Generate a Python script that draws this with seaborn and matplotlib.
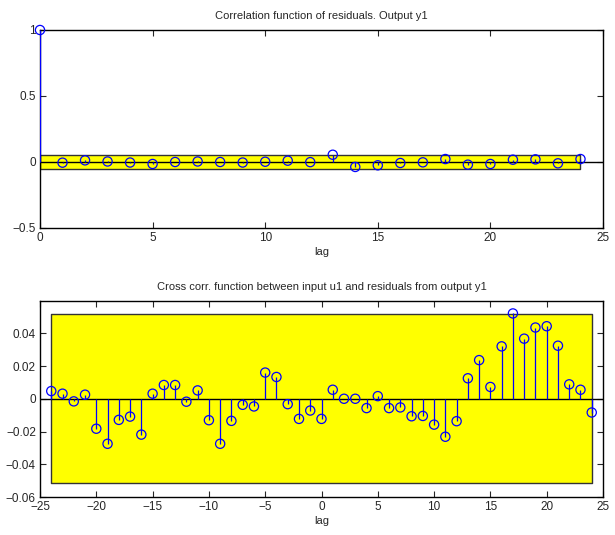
import numpy as np
import pandas as pd
import matplotlib
matplotlib.use('Agg')
import matplotlib.pyplot as plt
import seaborn as sns
from matplotlib.ticker import FuncFormatter

# autocorrelation of residuals, lags 0..24
auto_lags = list(range(0, 25))
auto_corr = [1.0, -0.005, 0.0125, 0.004, -0.004, -0.015, 0.0, 0.004, 0.0, -0.004,
             0.002, 0.010, -0.001, 0.055, -0.0375, -0.025, -0.0075, -0.0025, 0.0225,
             -0.020, -0.015, 0.0175, 0.020, -0.010, 0.0225]
auto_conf = 0.05

# cross correlation input u1 / residuals, lags -24..24
cross_lags = list(range(-24, 25))
cross_corr = [0.0047, 0.0031, -0.0016, 0.0025, -0.0183, -0.0275, -0.0129, -0.0109,
              -0.0219, 0.0031, 0.0084, 0.0084, -0.0018, 0.0051, -0.0131, -0.0275,
              -0.0135, -0.0037, -0.0047, 0.0160, 0.0133, -0.0033, -0.0123, -0.0072,
              -0.0123, 0.0055, 0.0, 0.0, -0.0057, 0.0016, -0.0057, -0.0053,
              -0.0107, -0.0105, -0.0158, -0.0232, -0.0137, 0.0125, 0.0236, 0.0072,
              0.0320, 0.0521, 0.0367, 0.0435, 0.0443, 0.0324, 0.0088, 0.0055, -0.0084]
cross_conf = 0.0515

sns.set_style('ticks')
plt.rcParams['font.family'] = ['Liberation Sans', 'DejaVu Sans']
plt.rcParams['axes.unicode_minus'] = True

fig = plt.figure(figsize=(6.15, 5.35), dpi=100)
ax1 = fig.add_axes([40/615, (535-228)/535, 563/615, 198/535])
ax2 = fig.add_axes([40/615, (535-497)/535, 563/615, 196/535])


def fmt(v, pos):
    return ('%g' % v).replace('-', '\u2212')


def stem_panel(ax, lags, corr, conf, title):
    df = pd.DataFrame({'lag': lags, 'corr': corr})
    x0, x1 = min(lags), max(lags)
    # confidence band
    ax.fill_between([x0, x1], [-conf, -conf], [conf, conf], facecolor='#ffff00',
                    edgecolor='#333333', linewidth=1.0, zorder=1)
    ax.axhline(0, color='black', linewidth=1.0, zorder=2)
    ax.vlines(df['lag'], 0, df['corr'], color='blue', linewidth=0.9, zorder=3)
    sns.scatterplot(data=df, x='lag', y='corr', ax=ax, marker='o', s=44,
                    facecolor='none', edgecolor='blue', linewidth=0.9, zorder=4,
                    clip_on=False)
    ax.set_title(title, fontsize=8, pad=8)
    ax.set_xlabel('lag', fontsize=8, labelpad=2)
    ax.set_ylabel('')
    ax.tick_params(direction='in', top=True, right=True, labelsize=8.5, length=4,
                   width=0.8, pad=3)
    ax.xaxis.set_major_formatter(FuncFormatter(fmt))
    ax.yaxis.set_major_formatter(FuncFormatter(fmt))
    for sp in ax.spines.values():
        sp.set_linewidth(1.0)
        sp.set_color('black')


stem_panel(ax1, auto_lags, auto_corr, auto_conf,
           'Correlation function of residuals. Output y1')
ax1.set_xlim(0, 25)
ax1.set_ylim(-0.5, 1)
ax1.set_xticks([0, 5, 10, 15, 20, 25])
ax1.set_yticks([-0.5, 0, 0.5, 1])

stem_panel(ax2, cross_lags, cross_corr, cross_conf,
           'Cross corr. function between input u1 and residuals from output y1')
ax2.set_xlim(-25, 25)
ax2.set_ylim(-0.06, 0.0597)
ax2.set_xticks([-25, -20, -15, -10, -5, 0, 5, 10, 15, 20, 25])
ax2.set_yticks([-0.06, -0.04, -0.02, 0, 0.02, 0.04])

fig.savefig('out.png', dpi=100)
